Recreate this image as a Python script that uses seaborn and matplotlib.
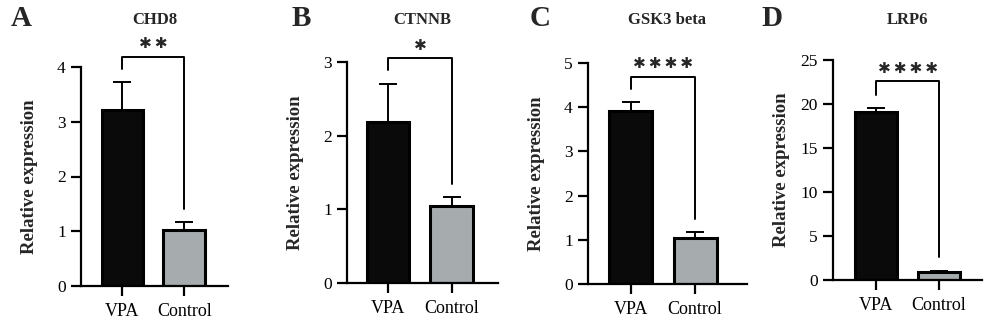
import matplotlib
matplotlib.use("Agg")
import matplotlib.pyplot as plt
import matplotlib.transforms as mtransforms
import seaborn as sns
import pandas as pd

sns.set_theme(style="ticks")
plt.rcParams['font.family'] = ['Liberation Serif', 'DejaVu Serif']

groups = ["VPA", "Control"]
genes = ["CHD8", "CTNNB", "GSK3 beta", "LRP6"]
letters = ["A", "B", "C", "D"]
means_chd8 = [3.22, 1.03]
errs_chd8 = [0.50, 0.14]
means_ctnnb = [2.19, 1.04]
errs_ctnnb = [0.51, 0.13]
means_gsk3 = [3.91, 1.04]
errs_gsk3 = [0.20, 0.13]
means_lrp6 = [19.1, 0.92]
errs_lrp6 = [0.5, 0.13]
stars = [2, 1, 4, 4]
ymax = [4, 3, 5, 25]
yticks = [[0, 1, 2, 3, 4], [0, 1, 2, 3], [0, 1, 2, 3, 4, 5], [0, 5, 10, 15, 20, 25]]
bracket_top = [4.19, 3.05, 4.69, 22.6]
bracket_left = [3.97, 2.89, 4.42, 21.0]
bracket_right = [1.40, 1.35, 1.48, 2.6]

means = [means_chd8, means_ctnnb, means_gsk3, means_lrp6]
errs = [errs_chd8, errs_ctnnb, errs_gsk3, errs_lrp6]

W, H = 1000, 326
fig = plt.figure(figsize=(W / 100, H / 100), dpi=100)

# axes boxes in pixels: left, right, y0 pixel, ytop pixel
boxes = [(81, 228, 286, 67), (347, 498, 283, 62), (588, 747, 284, 63), (833, 982, 280, 60)]
xlims = [(-0.67, 1.71), (-0.64, 1.72), (-0.67, 1.81), (-0.68, 1.68)]
letter_x = [21, 301, 540, 772]

palette = {"VPA": "#0a0a0a", "Control": "#a5abae"}

for i in range(4):
    l, r, y0, yt = boxes[i]
    ax = fig.add_axes([l / W, 1 - y0 / H, (r - l) / W, (y0 - yt) / H])
    df = pd.DataFrame({"group": groups, "value": means[i]})
    sns.barplot(data=df, x="group", y="value", hue="group", palette=palette,
                order=groups, width=0.67, edgecolor="black", linewidth=2.2,
                legend=False, ax=ax)
    ax.errorbar([0, 1], means[i], yerr=[[0, 0], errs[i]], fmt="none",
                ecolor="black", elinewidth=1.4, capsize=6.5, capthick=1.4, zorder=1)
    ax.set_xlim(*xlims[i])
    ax.set_ylim(0, ymax[i])
    ax.set_yticks(yticks[i])
    ax.set_xlabel("")
    ax.set_ylabel("Relative expression", fontsize=13.5, fontweight="bold")
    ax.yaxis.set_label_coords(-43 / (r - l), 0.5)
    for s in ["top", "right"]:
        ax.spines[s].set_visible(False)
    for s in ["left", "bottom"]:
        ax.spines[s].set_linewidth(1.6)
        ax.spines[s].set_color("black")
    ax.tick_params(axis="both", width=1.6, length=7, colors="black", pad=4)
    ax.tick_params(axis="y", labelsize=12.5)
    ax.tick_params(axis="x", labelsize=13, pad=5)
    # significance bracket
    ax.plot([0, 0, 1, 1], [bracket_left[i], bracket_top[i], bracket_top[i], bracket_right[i]],
            color="black", lw=1.4, clip_on=False)
    ax.annotate("\u2009".join(["\u2731"] * stars[i]), xy=(0.5, bracket_top[i]), xytext=(0, 4),
                textcoords="offset points", ha="center", va="bottom", fontsize=11,
                family=["DejaVu Sans"], annotation_clip=False)
    trans = mtransforms.blended_transform_factory(ax.transAxes, fig.transFigure)
    ax.text(0.5, 1 - 20 / H, genes[i], transform=trans, ha="center", va="center",
            fontsize=12, fontweight="bold")
    fig.text(letter_x[i] / W, 1 - 18 / H, letters[i], ha="center", va="center",
             fontsize=21, fontweight="bold")

fig.savefig("out.png", dpi=100, facecolor="white")
